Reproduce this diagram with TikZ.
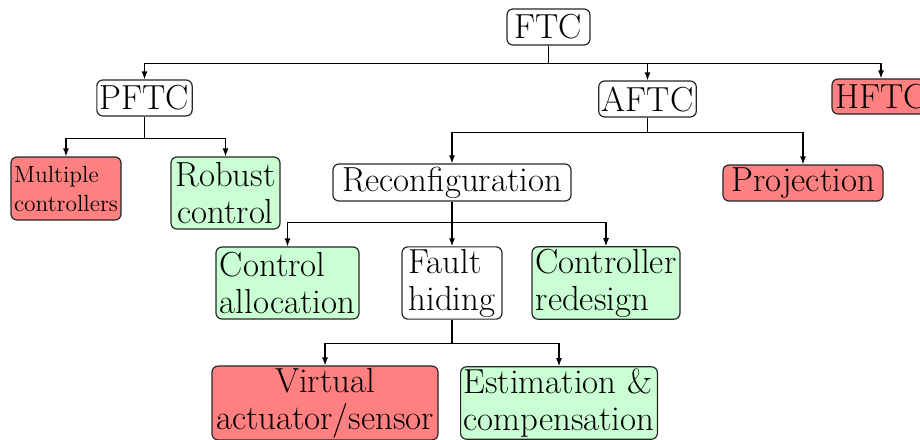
\RequirePackage{fix-cm}
\documentclass[tikz,border=0pt]{standalone}
\usetikzlibrary{arrows.meta}
\definecolor{badred}{RGB}{255,128,128}
\definecolor{goodgreen}{RGB}{202,255,212}
\begin{document}
\begin{tikzpicture}[x=0.5pt,y=-0.5pt,
  box/.style={draw=black!85,line width=0.6pt,rounded corners=3pt,fill=white,
    inner xsep=1.5pt,inner ysep=1pt,align=left,
    font=\fontsize{17.4}{18.5}\selectfont},
  bad/.style={box,fill=badred},
  good/.style={box,fill=goodgreen},
  arr/.style={line width=0.6pt,-{Latex[length=4pt,width=3pt]}}]
\useasboundingbox (0,0) rectangle (920,439);

% tree levels
\node[box,minimum width=41.5pt,minimum height=18pt] (ftc) at (548.5,27) {FTC};
\node[box,minimum width=47.5pt,minimum height=18pt] (pftc) at (144.5,98) {PFTC};
\node[box,minimum width=47.5pt,minimum height=18pt] (aftc) at (647.5,99) {AFTC};
\node[bad,minimum width=49pt,minimum height=17.5pt] (hftc) at (881,96.5) {HFTC};

\node[bad,minimum width=55pt,minimum height=31.5pt,inner xsep=1pt,
  font=\fontsize{11.7}{14.5}\selectfont] (mc) at (66,188.5) {Multiple\\controllers};
\node[good,minimum width=54.5pt,minimum height=36pt,align=center] (rc) at (225.5,193) {Robust\\control};
\node[box,minimum width=119pt,minimum height=18.5pt] (rec) at (452,182.5) {Reconfiguration};
\node[bad,minimum width=80pt,minimum height=18pt] (proj) at (803,183) {Projection};

\node[good,minimum width=71.5pt,minimum height=36pt] (ca) at (287.5,283) {Control\\allocation};
\node[box,minimum width=50pt,minimum height=36pt] (fh) at (452,283) {Fault\\hiding};
\node[good,minimum width=74pt,minimum height=36pt] (cr) at (606,283) {Controller\\redesign};

\node[bad,minimum width=113pt,minimum height=35pt,align=center] (va) at (325,403) {Virtual\\actuator/sensor};
\node[good,minimum width=98pt,minimum height=35pt] (ec) at (559,403) {Estimation \&\\compensation};

% forked connectors
\foreach \c in {pftc,aftc,hftc}
  \draw[arr] (ftc.south) -- ++(0,18) -| (\c.north);
\foreach \c in {mc,rc}
  \draw[arr] (pftc.south) -- ++(0,22) -| (\c.north);
\foreach \c in {rec,proj}
  \draw[arr] (aftc.south) -- ++(0,14.5) -| (\c.north);
\foreach \c in {ca,fh,cr}
  \draw[arr] (rec.south) -- ++(0,21) -| (\c.north);
\foreach \c in {va,ec}
  \draw[arr] (fh.south) -- ++(0,24) -| (\c.north);
\end{tikzpicture}
\end{document}
